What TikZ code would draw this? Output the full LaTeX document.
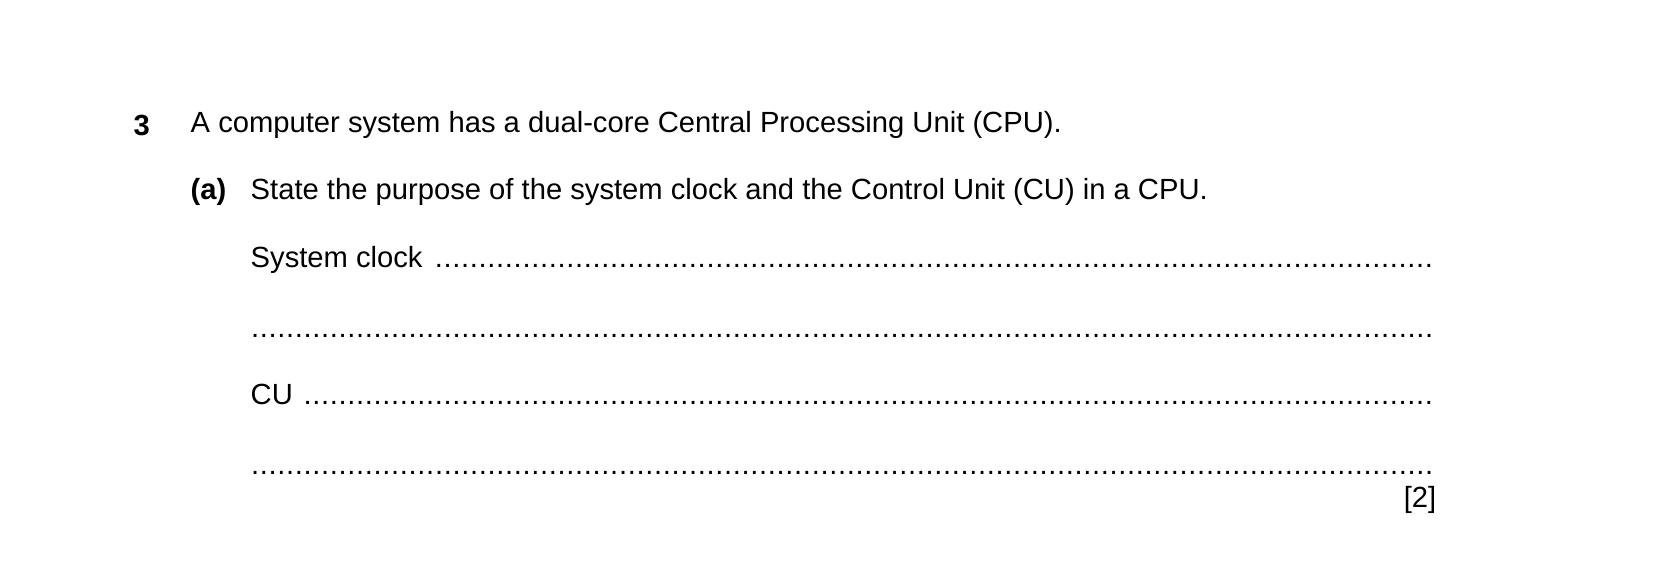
\documentclass[tikz,border=0pt]{standalone}
\usepackage{fontspec}
\setmainfont{Liberation Sans}
\newcommand{\dotline}[1]{\parbox{11.85cm}{\noindent\mbox{}#1\leaders\hbox to 0.3em{\hss.\hss}\hfill\strut}}
\begin{document}
\begin{tikzpicture}[x=0.01cm,y=-0.01cm]
\tikzset{txt/.style={anchor=west,inner sep=0,font=\fontsize{8.3}{10}\selectfont}}
\useasboundingbox (0,0) rectangle (1654,563);
\node[txt,font=\fontsize{8.3}{10}\selectfont\bfseries] (qnum) at (133,125) {3};
\node[txt] (stem) at (190,125) {A computer system has a dual-core Central Processing Unit (CPU).};
\node[txt,font=\fontsize{8.3}{10}\selectfont\bfseries] (part) at (190,192) {(a)};
\node[txt] (task) at (250,192) {State the purpose of the system clock and the Control Unit (CU) in a CPU.};
\node[txt] (clock1) at (250,260) {\dotline{System clock }};
\node[txt] (clock2) at (250,330) {\dotline{}};
\node[txt] (cu1) at (250,397) {\dotline{CU }};
\node[txt] (cu2) at (250,467) {\dotline{}};
\node[txt,anchor=east] (marks) at (1437,500) {[2]};
\end{tikzpicture}
\end{document}
